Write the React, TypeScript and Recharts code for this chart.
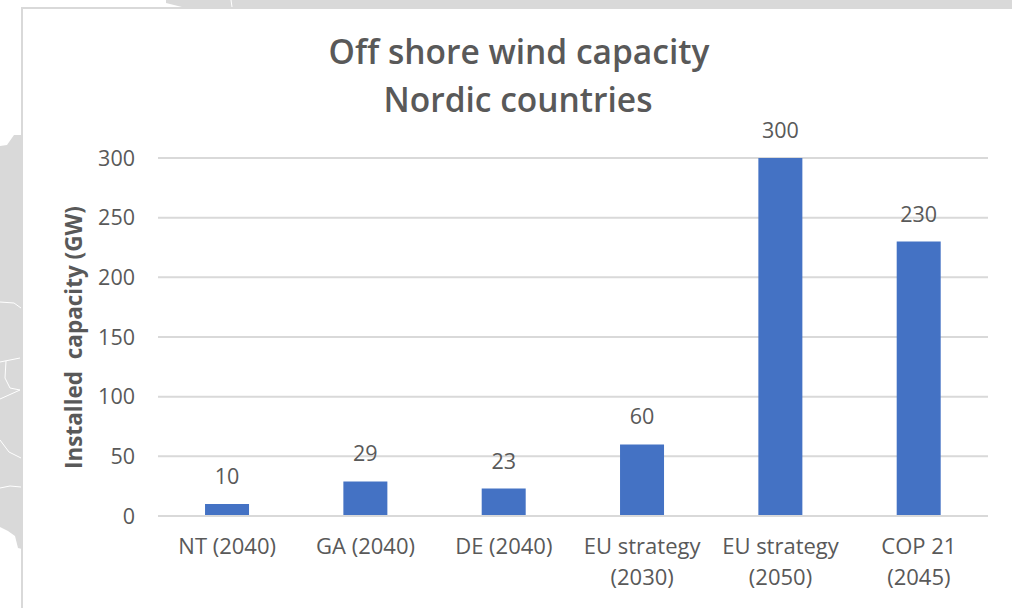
import { BarChart, Bar, XAxis, YAxis, CartesianGrid, LabelList } from "recharts";

const categories = ["NT (2040)", "GA (2040)", "DE (2040)", "EU strategy\n(2030)", "EU strategy\n(2050)", "COP 21\n(2045)"];
const capacity = [10, 29, 23, 60, 300, 230];
const yTicks = [0, 50, 100, 150, 200, 250, 300];
const titleLines = ["Off shore wind capacity", "Nordic countries"];

const chartData = categories.map((name, i) => ({ name, capacity: capacity[i] }));

const FONT = "'Open Sans', sans-serif";
const TEXT = "#595959";
const RULE = "#d9d9d9";

// wraps on the newline kept in the category name
function CategoryTick({ x, y, payload }: any) {
  return (
    <text x={x} y={y} textAnchor="middle" fontFamily={FONT} fontSize={22} fill={TEXT}>
      {String(payload.value).split("\n").map((line, i) => (
        <tspan key={line} x={x} dy={i === 0 ? 30 : 31}>
          {line}
        </tspan>
      ))}
    </text>
  );
}

// grey map that sits behind the chart card in the source slide
function Backdrop() {
  return (
    <svg width={1012} height={608} style={{ position: "absolute", left: 0, top: 0 }}>
      <path d="M166 0 L166 3 L182 7 L1012 7 L1012 0 Z" fill={RULE} />
      <path d="M231 0 L232 7" stroke="#fff" strokeWidth={1} fill="none" />
      <path d="M0 146 L7 145 L14 135 L22 135 L22 549 L18 548 L15 536 L8 531 L0 527 Z" fill={RULE} />
      <path d="M0 302 L14 303 L21 308 M0 362 L20 358 M6 361 L5 378 L10 388 L20 390 L0 399 M0 440 L9 452 L21 458 M0 488 L10 486 L21 487" stroke="#fff" strokeWidth={1} fill="none" />
      <rect x={22} y={8} width={1100} height={700} fill="#fff" stroke={RULE} strokeWidth={2} />
    </svg>
  );
}

export default function App() {
  return (
    <div style={{ position: "absolute", left: 0, top: 0, width: 1012, height: 608, overflow: "hidden", background: "#fff" }}>
      <Backdrop />
      <div style={{ position: "absolute", left: 0, top: 0 }}>
        <BarChart width={1012} height={608} data={chartData} margin={{ top: 158, right: 24, bottom: 0, left: 0 }} barCategoryGap="34%">
          <CartesianGrid vertical={false} stroke={RULE} strokeWidth={2} />
          <XAxis dataKey="name" interval={0} axisLine={{ stroke: RULE, strokeWidth: 2 }} tickLine={false} tick={<CategoryTick />} height={92} />
          <YAxis
            width={158}
            domain={[0, 300]}
            ticks={yTicks}
            axisLine={false}
            tickLine={false}
            tickMargin={17}
            tick={{ fontFamily: FONT, fontSize: 21.5, fill: TEXT }}
            label={{
              value: "Installed\u00a0\u00a0capacity (GW)",
              angle: -90,
              position: "insideLeft",
              dx: 69,
              dy: 132,
              style: { fontFamily: FONT, fontSize: 22.5, fontWeight: 700, fill: TEXT },
            }}
          />
          <Bar dataKey="capacity" fill="#4472c4" isAnimationActive={false}>
            <LabelList dataKey="capacity" position="top" offset={20} style={{ fontFamily: FONT, fontSize: 21.5, fill: TEXT }} />
          </Bar>
          <text x={519} y={64} textAnchor="middle" fontFamily={FONT} fontSize={33.5} fontWeight={600} fill={TEXT}>
            {titleLines[0]}
          </text>
          <text x={518} y={112} textAnchor="middle" fontFamily={FONT} fontSize={33.5} fontWeight={600} fill={TEXT}>
            {titleLines[1]}
          </text>
        </BarChart>
      </div>
    </div>
  );
}
